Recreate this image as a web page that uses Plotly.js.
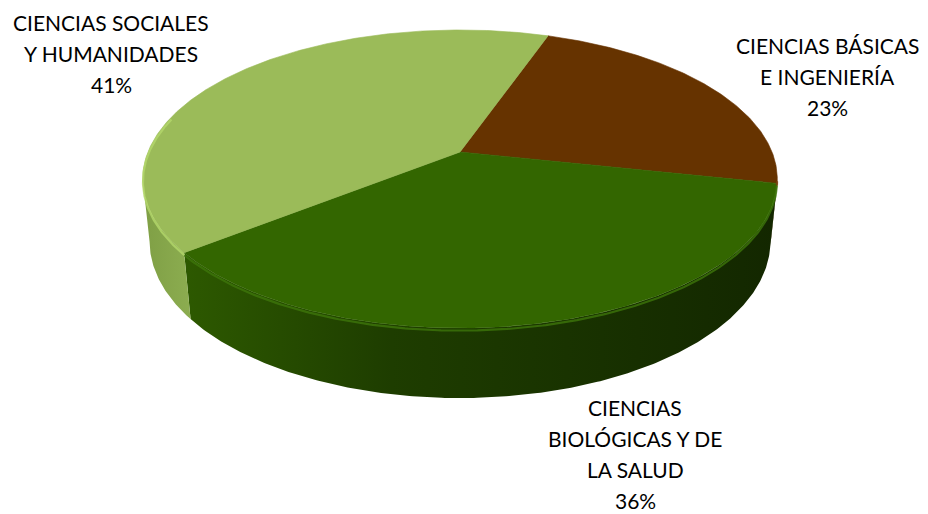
<!DOCTYPE html>
<html>
<head>
<meta charset="utf-8">
<script src="https://cdn.plot.ly/plotly-3.0.1.min.js"></script>
<style>html,body{margin:0;padding:0;background:#fff;}#chart{width:928px;height:514px;}</style>
</head>
<body>
<div id="chart"></div>
<script>
// ---- data ----
const categories = ["CIENCIAS BÁSICAS<br>E INGENIERÍA", "CIENCIAS<br>BIOLÓGICAS Y DE<br>LA SALUD", "CIENCIAS SOCIALES<br>Y HUMANIDADES"];
const values = [23, 36, 41];
const topColors = ["#663300", "#336600", "#9BBB59"];
const wallScales = [
  [[0, "#3f1f00"], [1, "#4d2600"]],
  [[0, "#2d5900"], [0.35, "#1e3d00"], [1, "#132700"]],
  [[0, "#7f9f45"], [1, "#8cad50"]]
];
const bevelColors = ["#7a4010", "#3d760a", "#b4d86c"];
// label anchor (centre x, first line y) in pixels
const labelX = [827, 635, 111];
const labelY = [45, 407, 22];

// ---- 3D projection (style constants) ----
const P = {cx: 460, cy: 152, F: 1526.5, D: 4.892, s: 0.462, c: 0.887, h: 0.226};
const startAngle = 70.7; // degrees, slices go clockwise
function proj(deg, z) {
  const t = deg * Math.PI / 180;
  const X = Math.cos(t), Y = Math.sin(t);
  const depth = P.D + Y * P.c - z * P.s;
  return [P.cx + P.F * X / depth, P.cy - P.F * (Y * P.s + z * P.c) / depth];
}
function arc(a1, a2, z) {
  const n = Math.max(2, Math.ceil(Math.abs(a2 - a1) / 0.5));
  const xs = [], ys = [];
  for (let i = 0; i <= n; i++) {
    const p = proj(a1 + (a2 - a1) * i / n, z);
    xs.push(p[0]); ys.push(p[1]);
  }
  return [xs, ys];
}
// silhouette angles (front visible range)
let rightSil = 0, leftSil = -180, best = -1e9, worst = 1e9;
for (let a = -90; a <= 0; a += 0.1) { const x = proj(a, 0)[0]; if (x > best) { best = x; rightSil = a; } }
for (let a = -270; a <= -90; a += 0.1) { const x = proj(a, 0)[0]; if (x < worst) { worst = x; leftSil = a; } }

const total = values.reduce((a, b) => a + b, 0);
const slices = [];
let acc = startAngle;
values.forEach((v, i) => {
  const sweep = v / total * 360;
  slices.push({i: i, hi: acc, lo: acc - sweep});
  acc -= sweep;
});

const traces = [];
// walls
slices.forEach(sl => {
  [-360, 0, 360].forEach(k => {
    const lo = Math.max(sl.lo, leftSil + k), hi = Math.min(sl.hi, rightSil + k);
    if (hi - lo > 0.05) {
      const top = arc(hi, lo, 0), bot = arc(lo, hi, -P.h);
      traces.push({
        type: "scatter", mode: "lines", x: top[0].concat(bot[0]).concat([top[0][0]]),
        y: top[1].concat(bot[1]).concat([top[1][0]]), fill: "toself",
        fillgradient: {type: "horizontal", colorscale: wallScales[sl.i]},
        line: {width: 0}, hoverinfo: "skip", showlegend: false
      });
    }
  });
});
// top faces
const apex = [P.cx, P.cy];
slices.forEach(sl => {
  const a = arc(sl.hi, sl.lo, 0);
  traces.push({
    type: "scatter", mode: "lines",
    x: [apex[0]].concat(a[0]).concat([apex[0]]),
    y: [apex[1]].concat(a[1]).concat([apex[1]]),
    fill: "toself", fillcolor: topColors[sl.i],
    line: {width: 0.6, color: topColors[sl.i]}, hoverinfo: "skip", showlegend: false
  });
});
// bevel highlights on front rim
slices.forEach(sl => {
  [-360, 0, 360].forEach(k => {
    const lo = Math.max(sl.lo, leftSil - 25 + k), hi = Math.min(sl.hi, rightSil + k);
    if (hi - lo > 0.5) {
      const a = arc(hi, lo, -0.008);
      traces.push({type: "scatter", mode: "lines", x: a[0], y: a[1],
        line: {width: 2.2, color: bevelColors[sl.i]}, opacity: 0.8, hoverinfo: "skip", showlegend: false});
    }
  });
});

// labels
const annotations = [];
categories.forEach((cat, i) => {
  const lines = cat.split("<br>").concat([Math.round(values[i] / total * 100) + "%"]);
  lines.forEach((ln, j) => {
    annotations.push({x: labelX[i], y: labelY[i] + j * 31.2, xref: "x", yref: "y", text: ln,
      showarrow: false, xanchor: "center", yanchor: "middle",
      font: {family: "Lato, 'Open Sans', sans-serif", size: 21, color: "#000"}});
  });
});

const layout = {
  width: 928, height: 514, margin: {l: 0, r: 0, t: 0, b: 0},
  paper_bgcolor: "#fff", plot_bgcolor: "#fff",
  xaxis: {range: [0, 928], visible: false, fixedrange: true},
  yaxis: {range: [514, 0], visible: false, fixedrange: true},
  annotations: annotations, showlegend: false
};
Plotly.newPlot("chart", traces, layout, {staticPlot: true, displayModeBar: false});
</script>
</body>
</html>
